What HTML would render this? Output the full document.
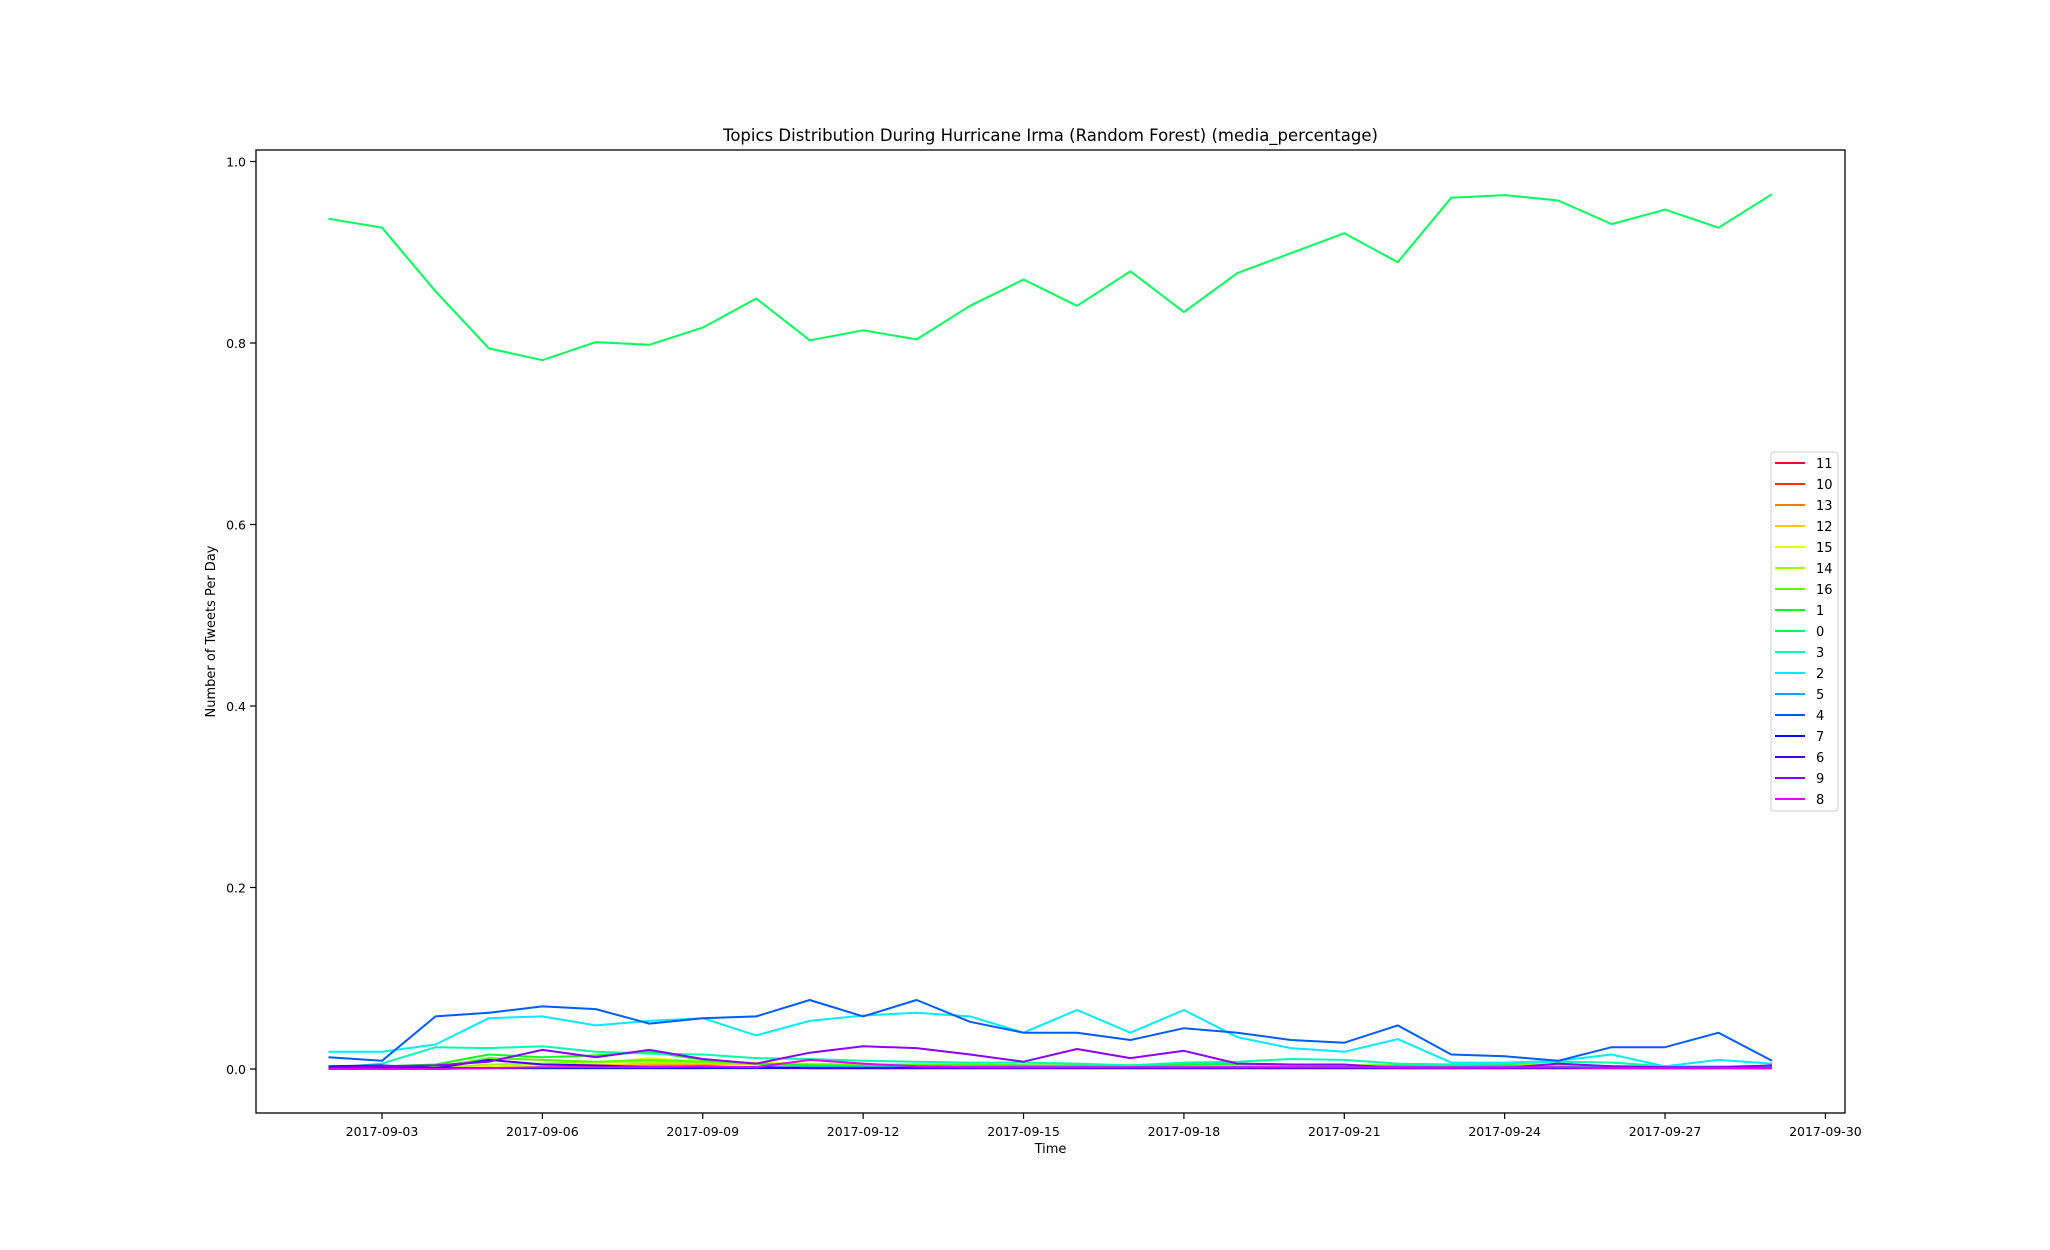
<!DOCTYPE html>
<html><head><meta charset="utf-8"><style>
html,body{margin:0;padding:0;background:#fff;}
svg{display:block;font-family:"DejaVu Sans","Liberation Sans",sans-serif;}
</style></head><body>
<svg id="chart" width="2050" height="1250"></svg>
<script>
const dates = ["09-02","09-03","09-04","09-05","09-06","09-07","09-08","09-09","09-10","09-11","09-12","09-13","09-14","09-15","09-16","09-17","09-18","09-19","09-20","09-21","09-22","09-23","09-24","09-25","09-26","09-27","09-28","09-29"];
const xTickLabels = ["2017-09-03","2017-09-06","2017-09-09","2017-09-12","2017-09-15","2017-09-18","2017-09-21","2017-09-24","2017-09-27","2017-09-30"];
const xTickDays = [1,4,7,10,13,16,19,22,25,28];
const yTicks = [0.0,0.2,0.4,0.6,0.8,1.0];
const seriesNames = ["11","10","13","12","15","14","16","1","0","3","2","5","4","7","6","9","8"];
const seriesColors = ["#ff0029","#ff3000","#ff7a00","#ffc800","#e8ff00","#9cff00","#56ff00","#10ff1a","#00ff5a","#00ffa8","#00ecff","#00a6ff","#005cff","#0010ff","#4000ff","#8c00ff","#e400ff"];
const s11 = [0,0,0,0.002,0.002,0.003,0.002,0.002,0.002,0.001,0.001,0.001,0.001,0.001,0.001,0.001,0.001,0.001,0.001,0.001,0.001,0.001,0.001,0.001,0.001,0.001,0.001,0.001];
const s10 = [0,0,0,0.002,0.004,0.003,0.003,0.008,0.005,0.004,0.002,0.002,0.002,0.002,0.002,0.002,0.002,0.002,0.002,0.002,0.002,0.002,0.002,0.002,0.003,0.003,0.002,0.002];
const s13 = [0,0,0.001,0.001,0.003,0.004,0.004,0.005,0.006,0.004,0.003,0.002,0.002,0.002,0.002,0.002,0.002,0.002,0.002,0.002,0.002,0.002,0.002,0.003,0.002,0.002,0.002,0.002];
const s12 = [0,0,0.001,0.001,0.003,0.004,0.006,0.006,0.005,0.004,0.003,0.003,0.003,0.002,0.002,0.002,0.002,0.003,0.003,0.003,0.002,0.003,0.003,0.003,0.003,0.003,0.003,0.003];
const s15 = [0,0,0.001,0.002,0.004,0.006,0.012,0.008,0.007,0.006,0.005,0.005,0.004,0.004,0.003,0.003,0.004,0.004,0.004,0.004,0.004,0.004,0.004,0.004,0.003,0.003,0.003,0.003];
const s14 = [0,0,0.001,0.005,0.006,0.008,0.008,0.007,0.006,0.005,0.005,0.005,0.005,0.004,0.004,0.004,0.005,0.005,0.005,0.004,0.004,0.004,0.005,0.005,0.003,0.003,0.003,0.003];
const s16 = [0,0.001,0.002,0.012,0.010,0.008,0.010,0.008,0.006,0.005,0.005,0.005,0.004,0.004,0.004,0.004,0.004,0.005,0.004,0.004,0.004,0.004,0.004,0.004,0.003,0.002,0.002,0.002];
const s1 = [0,0.003,0.005,0.016,0.013,0.015,0.019,0.010,0.006,0.004,0.003,0.003,0.004,0.004,0.003,0.003,0.005,0.006,0.005,0.003,0.004,0.002,0.004,0.002,0.002,0.001,0.001,0.001];
const s0 = [0.937,0.927,0.857,0.794,0.781,0.801,0.798,0.817,0.849,0.803,0.814,0.804,0.841,0.870,0.841,0.879,0.834,0.877,0.899,0.921,0.889,0.960,0.963,0.957,0.931,0.947,0.927,0.964];
const s3 = [0.001,0.006,0.024,0.023,0.025,0.019,0.017,0.016,0.012,0.011,0.009,0.008,0.007,0.007,0.006,0.004,0.007,0.008,0.011,0.010,0.006,0.005,0.006,0.008,0.007,0.003,0.001,0.001];
const s2 = [0.019,0.019,0.027,0.056,0.058,0.048,0.053,0.056,0.037,0.053,0.059,0.062,0.058,0.040,0.065,0.040,0.065,0.035,0.023,0.019,0.033,0.007,0.007,0.009,0.016,0.003,0.010,0.006];
const s5 = [0.001,0.001,0.001,0.001,0.001,0.001,0.001,0.001,0.002,0.002,0.002,0.002,0.002,0.002,0.002,0.002,0.002,0.002,0.002,0.002,0.002,0.002,0.002,0.002,0.002,0.002,0.002,0.002];
const s4 = [0.013,0.009,0.058,0.062,0.069,0.066,0.050,0.056,0.058,0.076,0.058,0.076,0.052,0.040,0.040,0.032,0.045,0.040,0.032,0.029,0.048,0.016,0.014,0.009,0.024,0.024,0.040,0.009];
const s7 = [0.001,0.001,0.001,0.001,0.001,0.001,0.001,0.001,0.001,0.001,0.001,0.001,0.001,0.001,0.001,0.001,0.001,0.001,0.001,0.001,0.001,0.001,0.001,0.001,0.001,0.001,0.001,0.001];
const s6 = [0.003,0.004,0.001,0.010,0.005,0.004,0.002,0.002,0.002,0.001,0.001,0.001,0.001,0.001,0.001,0.001,0.001,0.001,0.001,0.001,0.001,0.001,0.001,0.001,0.001,0.001,0.001,0.001];
const s9 = [0.001,0.003,0.004,0.008,0.021,0.013,0.021,0.011,0.006,0.018,0.025,0.023,0.016,0.008,0.022,0.012,0.020,0.006,0.005,0.005,0.001,0.001,0.001,0.006,0.003,0.002,0.002,0.004];
const s8 = [0,0,0,0.001,0.002,0.002,0.002,0.003,0.002,0.010,0.006,0.003,0.002,0.002,0.002,0.002,0.002,0.002,0.002,0.002,0.002,0.002,0.002,0.002,0.001,0.001,0.001,0.001];
const seriesData = [s11,s10,s13,s12,s15,s14,s16,s1,s0,s3,s2,s5,s4,s7,s6,s9,s8];

const NS = "http://www.w3.org/2000/svg";
const svg = document.getElementById("chart");
const L=256, R=1845, T=150, B=1113;
const x0 = 382 - 53.46;
function xs(i){ return x0 + i*53.46; }
function ys(v){ return 1069 - v*907.5; }
function mk(tag, attrs){ const e=document.createElementNS(NS,tag); for(const k in attrs) e.setAttribute(k,attrs[k]); svg.appendChild(e); return e; }

const title = mk("text",{x:(L+R)/2,y:141,"text-anchor":"middle","font-size":"16.5"});
title.textContent = "Topics Distribution During Hurricane Irma (Random Forest) (media_percentage)";



seriesData.forEach((d,si)=>{
  const pts = d.map((v,i)=>xs(i).toFixed(1)+","+ys(v).toFixed(1)).join(" ");
  const p = mk("polyline",{points:pts,fill:"none",stroke:seriesColors[si],"stroke-width":"2","stroke-linejoin":"round"});
  
  
});

const frame = mk("rect",{x:L,y:T,width:R-L,height:B-T,fill:"none",stroke:"#000","stroke-width":"1.3"});



xTickDays.forEach((d,i)=>{
  const x = xs(d);
  const t = mk("line",{x1:x,x2:x,y1:B,y2:B+6,stroke:"#000","stroke-width":"1.2"});
  
  
  const lb = mk("text",{x:x,y:B+23,"text-anchor":"middle","font-size":"12.5"});
  lb.textContent = xTickLabels[i];
  
  
});
yTicks.forEach(v=>{
  const y = ys(v);
  const t = mk("line",{x1:L-6,x2:L,y1:y,y2:y,stroke:"#000","stroke-width":"1.2"});
  
  
  const lb = mk("text",{x:L-10,y:y+5,"text-anchor":"end","font-size":"12.5"});
  lb.textContent = v.toFixed(1);
  
  
});
const xt = mk("text",{x:(L+R)/2,y:1153,"text-anchor":"middle","font-size":"13"});
xt.textContent="Time";


const yt = mk("text",{x:0,y:0,"text-anchor":"middle","font-size":"13",transform:"translate(215,"+((T+B)/2)+") rotate(-90)"});
yt.textContent="Number of Tweets Per Day";



const lg = mk("rect",{x:1771,y:452,width:67,height:359,rx:3,fill:"#fff",stroke:"#ccc","stroke-width":"1"});


seriesNames.forEach((n,i)=>{
  const y = 463 + i*21;
  const ln = mk("line",{x1:1775,x2:1805,y1:y,y2:y,stroke:seriesColors[i],"stroke-width":"2"});
  
  
  const tx = mk("text",{x:1816,y:y+5,"font-size":"13"});
  tx.textContent = n;
  
  
});
</script>
</body></html>
